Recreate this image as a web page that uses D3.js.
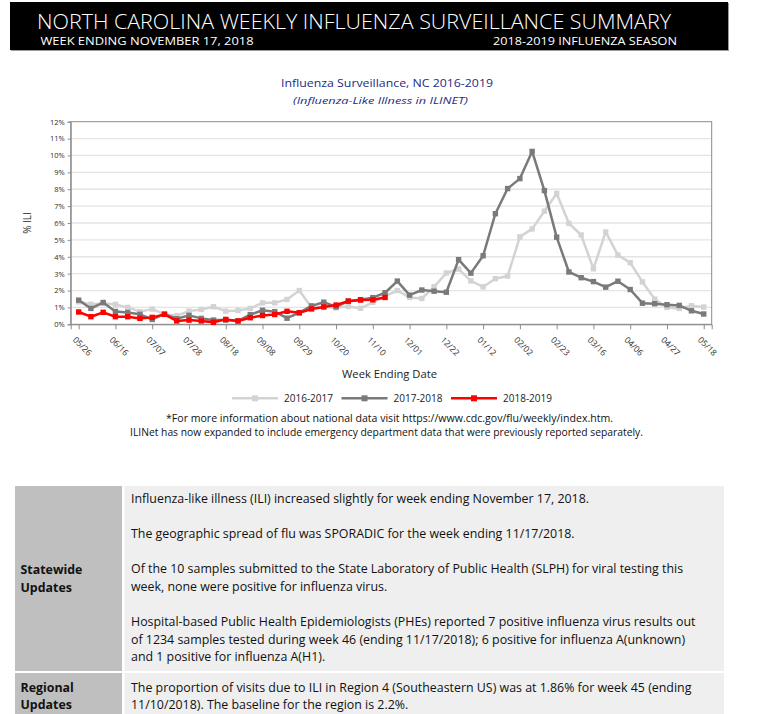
<!DOCTYPE html>
<html>
<head>
    <meta http-equiv="content-type" content="text/html; charset=utf-8">
    <script type="text/javascript" src="https://cdn.jsdelivr.net/npm/d3@7/dist/d3.min.js"></script>
    <style>
        body { margin: 0; background: #ffffff; }
        #page svg { display: block; font-family: 'Open Sans', sans-serif; }
        .axis path, .axis line { stroke: #8a8a8a; }
        .axis text { fill: #2e2e2e; font-size: 7.5px; font-family: 'Open Sans', sans-serif; }
    </style>
    <script>
        var weeks = ["05/26","06/02","06/09","06/16","06/23","06/30","07/07","07/14","07/21","07/28",
                     "08/04","08/11","08/18","08/25","09/01","09/08","09/15","09/22","09/29","10/06",
                     "10/13","10/20","10/27","11/03","11/10","11/17","11/24","12/01","12/08","12/15",
                     "12/22","12/29","01/05","01/12","01/19","01/26","02/02","02/09","02/16","02/23",
                     "03/02","03/09","03/16","03/23","03/30","04/06","04/13","04/20","04/27","05/04",
                     "05/11","05/18"];
        var tickWeeks = ["05/26","06/16","07/07","07/28","08/18","09/08","09/29","10/20","11/10","12/01",
                         "12/22","01/12","02/02","02/23","03/16","04/06","04/27","05/18"];
        var yTicks = [0,1,2,3,4,5,6,7,8,9,10,11,12];

        var ili2016 = [1.33,1.18,1.25,1.18,1.00,0.75,0.90,0.60,0.51,0.78,0.88,1.04,0.78,0.82,0.94,1.27,1.27,1.47,2.00,1.00,
                       1.02,0.98,1.06,0.95,1.30,1.67,2.00,1.59,1.53,2.22,3.04,3.27,2.57,2.22,2.70,2.86,5.18,5.65,6.70,7.75,
                       5.98,5.29,3.29,5.47,4.10,3.65,2.51,1.49,1.00,0.94,1.10,1.02];
        var ili2017 = [1.43,0.94,1.29,0.76,0.70,0.59,0.29,0.60,0.33,0.53,0.35,0.25,0.25,0.20,0.57,0.83,0.75,0.36,0.69,1.09,
                       1.31,1.03,1.38,1.46,1.58,1.87,2.56,1.73,2.03,1.96,1.90,3.83,3.03,4.06,6.55,8.04,8.63,10.24,7.92,5.16,
                       3.10,2.76,2.53,2.20,2.55,2.06,1.25,1.22,1.16,1.12,0.80,0.61];
        var ili2018 = [0.73,0.45,0.71,0.45,0.45,0.35,0.41,0.59,0.20,0.25,0.20,0.12,0.29,0.20,0.39,0.52,0.58,0.77,0.68,0.91,
                       1.03,1.14,1.37,1.44,1.45,1.59];

        var seasons = ["2016-2017", "2017-2018", "2018-2019"];
        var seasonColors = ["#d3d3d3", "#7a7a7a", "#ff0000"];

        var statewideLines = [
            "Influenza-like illness (ILI) increased slightly for week ending November 17, 2018.",
            "",
            "The geographic spread of flu was SPORADIC for the week ending 11/17/2018.",
            "",
            "Of the 10 samples submitted to the State Laboratory of Public Health (SLPH) for viral testing this",
            "week, none were positive for influenza virus.",
            "",
            "Hospital-based Public Health Epidemiologists (PHEs) reported 7 positive influenza virus results out",
            "of 1234 samples tested during week 46 (ending 11/17/2018); 6 positive for influenza A(unknown)",
            "and 1 positive for influenza A(H1)."
        ];
        var regionalLines = [
            "The proportion of visits due to ILI in Region 4 (Southeastern US) was at 1.86% for week 45 (ending",
            "11/10/2018). The baseline for the region is 2.2%."
        ];

        function fit(sel, w)
        {
            sel.attr('textLength', w).attr('lengthAdjust', 'spacingAndGlyphs');
        }

        function init()
        {
            var svg = d3.select('#page').append('svg')
                .attr('width', 766).attr('height', 714);

            // header band
            svg.append('rect').attr('x', 11).attr('y', 3).attr('width', 718).attr('height', 48).attr('fill', '#9a9a9a');
            svg.append('rect').attr('x', 10).attr('y', 2).attr('width', 718).attr('height', 48).attr('fill', '#000');
            svg.append('text').attr('x', 37).attr('y', 28.5).attr('fill', '#fff').attr('font-size', 21)
                .attr('font-weight', 300)
                .text('NORTH CAROLINA WEEKLY INFLUENZA SURVEILLANCE SUMMARY').call(fit, 634);
            svg.append('text').attr('x', 40.5).attr('y', 44.5).attr('fill', '#fff').attr('font-size', 10.5)
                .text('WEEK ENDING NOVEMBER 17, 2018').call(fit, 213);
            svg.append('text').attr('x', 493).attr('y', 44.5).attr('fill', '#fff').attr('font-size', 10.5)
                .text('2018-2019 INFLUENZA SEASON').call(fit, 184);

            svg.append('text').attr('x', 281).attr('y', 87).attr('fill', '#1f2a85').attr('font-size', 11.5)
                .text('Influenza Surveillance, NC 2016-2019').call(fit, 212);
            svg.append('text').attr('x', 293).attr('y', 103.5).attr('fill', '#1f2a85').attr('font-size', 9.5)
                .attr('font-style', 'italic')
                .text('(Influenza-Like Illness in ILINET)').call(fit, 175);

            var left = 70.7, right = 711.7, top = 121.7, bottom = 324.3;
            var x = d3.scalePoint().domain(weeks).range([left, right]).padding(0.65);
            var y = d3.scaleLinear().domain([0, 12]).range([bottom, top]);

            svg.append('g').selectAll('line').data(yTicks.slice(1, 12)).enter().append('line')
                .attr('x1', left).attr('x2', right)
                .attr('y1', function(d) { return y(d); })
                .attr('y2', function(d) { return y(d); })
                .attr('stroke', '#e4e4e4').attr('stroke-width', 1.3);

            svg.append('rect').attr('x', left).attr('y', top)
                .attr('width', right - left).attr('height', bottom - top)
                .attr('fill', 'none').attr('stroke', '#8a8a8a');

            svg.append('g').attr('class', 'axis')
                .attr('transform', 'translate(' + left + ',0)')
                .call(d3.axisLeft(y).tickValues(yTicks).tickSize(3).tickPadding(3)
                    .tickFormat(function(d) { return d + '%'; }));

            var xAxis = svg.append('g').attr('class', 'axis')
                .attr('transform', 'translate(0,' + bottom + ')')
                .call(d3.axisBottom(x).tickValues(tickWeeks).tickSize(5));
            xAxis.selectAll('text')
                .attr('x', 0).attr('y', 0).attr('dy', '0.35em')
                .attr('text-anchor', 'start')
                .style('font-size', '8.5px')
                .attr('transform', 'translate(-4.8,14) rotate(45)');

            svg.append('text').attr('transform', 'translate(31,223) rotate(-90)')
                .attr('text-anchor', 'middle').attr('font-size', 10).attr('fill', '#333')
                .text('% ILI');

            svg.append('text').attr('x', 342).attr('y', 378).attr('font-size', 11).attr('fill', '#222')
                .text('Week Ending Date').call(fit, 95);

            var line = d3.line()
                .x(function(d, i) { return x(weeks[i]); })
                .y(function(d) { return y(d); });

            [ili2016, ili2017, ili2018].forEach(function(values, k)
            {
                var g = svg.append('g');
                g.append('path').datum(values)
                    .attr('d', line)
                    .attr('fill', 'none')
                    .attr('stroke', seasonColors[k])
                    .attr('stroke-width', 2.5)
                    .attr('stroke-linejoin', 'round');
                g.selectAll('rect').data(values).enter().append('rect')
                    .attr('x', function(d, i) { return x(weeks[i]) - 2.7; })
                    .attr('y', function(d) { return y(d) - 2.7; })
                    .attr('width', 5.4).attr('height', 5.4)
                    .attr('fill', seasonColors[k]);
            });

            // legend
            var legend = svg.append('g').selectAll('g').data(seasons).enter().append('g')
                .attr('transform', function(d, i) { return 'translate(' + (232 + i * 109.5) + ',398.3)'; });
            legend.append('line').attr('x1', 0).attr('x2', 46)
                .attr('stroke', function(d, i) { return seasonColors[i]; })
                .attr('stroke-width', 2.5);
            legend.append('rect').attr('x', 20).attr('y', -3).attr('width', 6).attr('height', 6)
                .attr('fill', function(d, i) { return seasonColors[i]; });
            legend.append('text').attr('x', 52).attr('dy', '0.35em').attr('font-size', 10).attr('fill', '#222')
                .text(function(d) { return d; }).call(fit, 49);

            svg.append('text').attr('x', 166).attr('y', 421.8).attr('font-size', 10).attr('fill', '#111')
                .text('*For more information about national data visit https://www.cdc.gov/flu/weekly/index.htm.')
                .call(fit, 447);
            svg.append('text').attr('x', 130).attr('y', 436.2).attr('font-size', 10).attr('fill', '#111')
                .text('ILINet has now expanded to include emergency department data that were previously reported separately.')
                .call(fit, 513);

            // update table
            svg.append('rect').attr('x', 15).attr('y', 486).attr('width', 107).attr('height', 185).attr('fill', '#bfbfbf');
            svg.append('rect').attr('x', 124.5).attr('y', 486).attr('width', 599.5).attr('height', 185).attr('fill', '#efefef');
            svg.append('rect').attr('x', 15).attr('y', 673).attr('width', 107).attr('height', 45).attr('fill', '#bfbfbf');
            svg.append('rect').attr('x', 124.5).attr('y', 673).attr('width', 599.5).attr('height', 45).attr('fill', '#efefef');

            var body = svg.append('g').attr('font-size', 12).attr('fill', '#111');
            var rows = body.selectAll('text.sw').data(statewideLines).enter().append('text')
                .attr('class', 'sw').attr('x', 131)
                .attr('y', function(d, i) { return 503 + i * 17.6; })
                .text(function(d) { return d; });
            body.selectAll('text.rg').data(regionalLines).enter().append('text')
                .attr('class', 'rg').attr('x', 131)
                .attr('y', function(d, i) { return 692 + i * 17.3; })
                .text(function(d) { return d; });
            body.selectAll('text.lb')
                .data([['Statewide', 574], ['Updates', 591.6], ['Regional', 692], ['Updates', 709.3]])
                .enter().append('text').attr('class', 'lb')
                .attr('x', 20.5).attr('y', function(d) { return d[1]; })
                .attr('font-weight', 'bold')
                .text(function(d) { return d[0]; });

            var squeeze = 458 / rows.node().getComputedTextLength();
            body.selectAll('text').each(function()
            {
                var w = this.getComputedTextLength();
                if (w > 0) d3.select(this).call(fit, w * squeeze);
            });
        }
        window.addEventListener('load', init, false);
    </script>
</head>
<body>
    <div id="page"></div>
</body>
</html>
